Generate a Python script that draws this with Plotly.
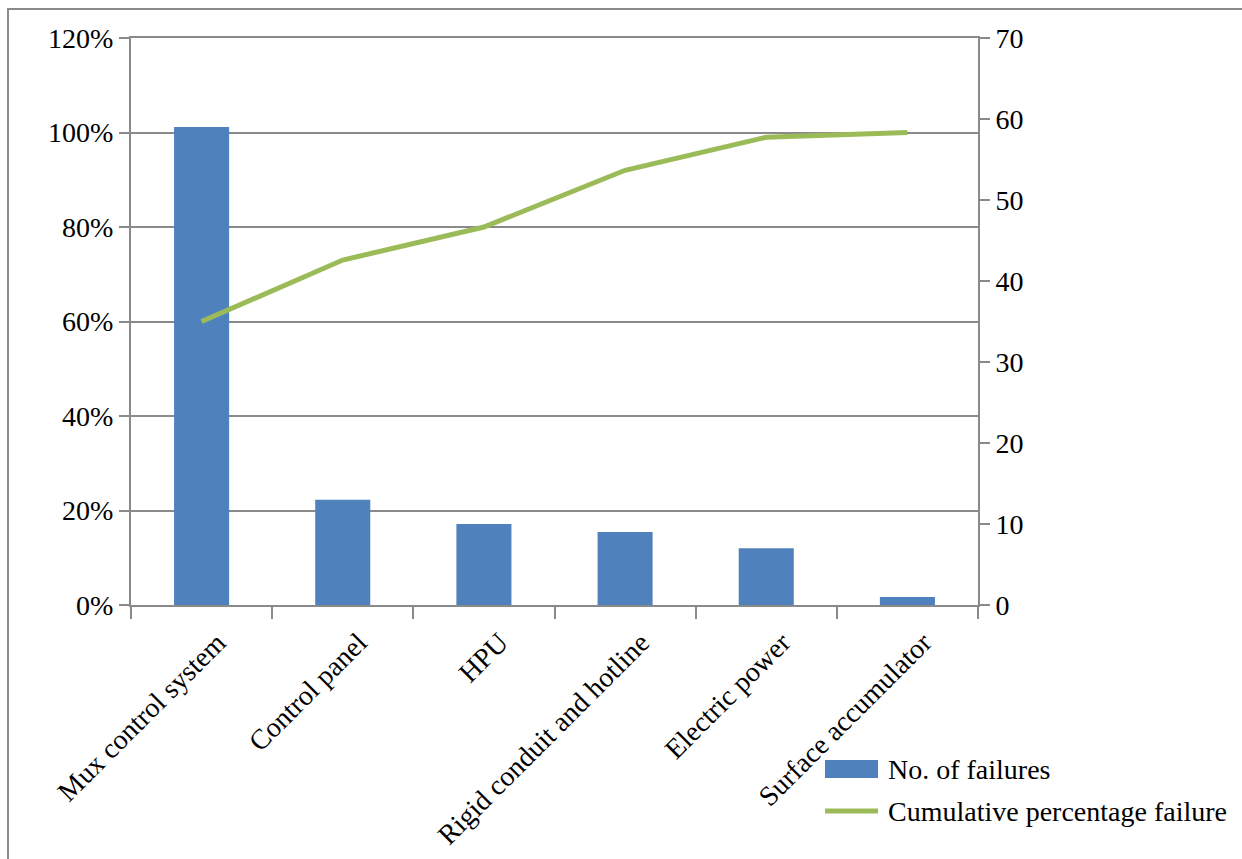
import plotly.graph_objects as go

# Failure counts per subsystem and the running cumulative share
categories = ["Mux control system", "Control panel", "HPU",
              "Rigid conduit and hotline", "Electric power", "Surface accumulator"]
failures = [59, 13, 10, 9, 7, 1]
cumulative_pct = [0.60, 0.73, 0.80, 0.92, 0.99, 1.00]

series_names = ["No. of failures", "Cumulative percentage failure"]

W, H = 1242, 859
ML, MR, MT, MB = 131, 264, 38, 254
PW, PH = W - ML - MR, H - MT - MB

BLUE = "#4F81BD"
GREEN = "#9BBB59"
GRID = "#8A8A8A"
FONT = "Liberation Serif, serif"
FS = 28


def px_x(x):
    return (x - ML) / PW


def px_y(y):
    return (H - MB - y) / PH


def serif():
    return dict(family=FONT, size=FS, color="black")


fig = go.Figure()
fig.add_trace(go.Bar(x=categories, y=failures, name=series_names[0],
                     marker=dict(color=BLUE, line=dict(width=0)),
                     yaxis="y", showlegend=False))
fig.add_trace(go.Scatter(x=categories, y=cumulative_pct, name=series_names[1],
                         mode="lines", line=dict(color=GREEN, width=5),
                         yaxis="y2", showlegend=False))

fig.update_layout(
    width=W, height=H,
    margin=dict(l=ML, r=MR, t=MT, b=MB, pad=0),
    paper_bgcolor="white", plot_bgcolor="white",
    bargap=0.61,
    font=serif(),
    xaxis=dict(type="category", showline=True, linecolor=GRID, linewidth=2,
               mirror=True, ticks="outside", tickson="boundaries", ticklen=12,
               tickcolor=GRID, tickwidth=2, tickangle=-45, tickfont=serif(),
               ticklabelshift=16, ticklabelstandoff=8, automargin=False,
               showgrid=False),
    yaxis=dict(side="right", range=[0, 70], dtick=10, showgrid=False,
               zeroline=False, showline=True, linecolor=GRID, linewidth=2,
               ticks="outside", ticklen=10, tickcolor=GRID, tickwidth=2,
               automargin=False, tickfont=serif()),
    yaxis2=dict(side="left", overlaying="y", range=[0, 1.2], dtick=0.2,
                tickformat=".0%", showgrid=True, gridcolor=GRID, gridwidth=2,
                zeroline=False, showline=True, linecolor=GRID, linewidth=2,
                ticks="outside", ticklen=10, tickcolor=GRID, tickwidth=2,
                automargin=False, tickfont=serif()),
)

# Outer chart frame
fig.add_shape(type="rect", xref="paper", yref="paper",
              x0=px_x(8), x1=px_x(1300), y0=px_y(900), y1=px_y(9),
              line=dict(color=GRID, width=2), fillcolor="rgba(0,0,0,0)",
              layer="below")

# Legend
fig.add_shape(type="rect", xref="paper", yref="paper",
              x0=px_x(825), x1=px_x(878), y0=px_y(778), y1=px_y(760),
              line=dict(width=0), fillcolor=BLUE)
fig.add_shape(type="line", xref="paper", yref="paper",
              x0=px_x(825), x1=px_x(878), y0=px_y(811), y1=px_y(811),
              line=dict(color=GREEN, width=5))
for name, yc in zip(series_names, [769, 811]):
    fig.add_annotation(text=name, xref="paper", yref="paper",
                       x=px_x(886), y=px_y(yc), xanchor="left", yanchor="middle",
                       showarrow=False, font=serif())

fig.write_html("out.html")
